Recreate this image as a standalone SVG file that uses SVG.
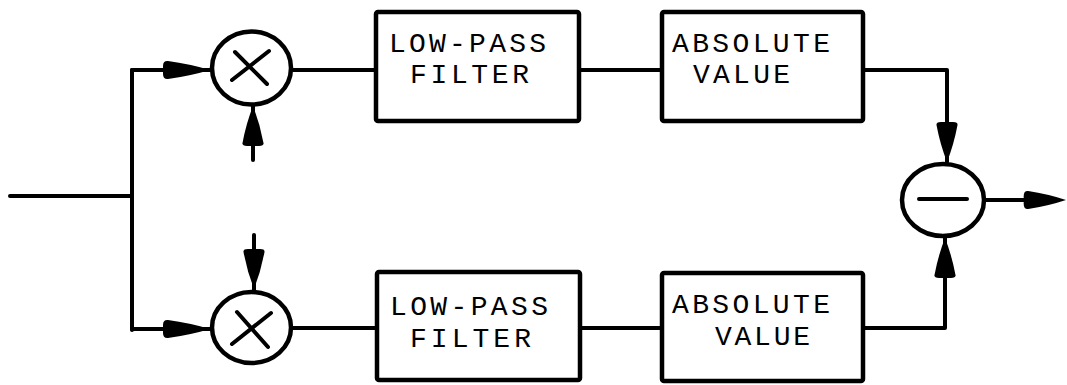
<svg xmlns="http://www.w3.org/2000/svg" width="1067" height="385" viewBox="0 0 1067 385">
  <style>
    .wire { fill: none; stroke: #000; stroke-width: 4; stroke-linecap: round; stroke-linejoin: round; }
    .box { fill: #fff; stroke: #000; stroke-width: 4.5; }
    .op { fill: #fff; stroke: #000; stroke-width: 4.5; }
    .sym { fill: none; stroke: #000; stroke-width: 4; stroke-linecap: round; }
    .lbl { font-family: "Liberation Mono", "DejaVu Sans Mono", monospace; font-size: 28px; fill: #000; }
    .head { fill: #000; }
  </style>
  <defs>
    <!-- arrowheads pointing along +x, tip at origin, slightly convex flanks -->
    <path id="ahH" d="M0,0 Q-20,-6 -42,-9 Q-47,-9.5 -47,-4 L-47,4 Q-47,9.5 -42,9 Q-20,6 0,0 Z"/>
    <path id="ahV" d="M0,0 Q-18,-7 -37,-10.5 Q-40,-11 -40,-6 L-40,6 Q-40,11 -37,10.5 Q-18,7 0,0 Z"/>
  </defs>

  <g id="connectors">
    <path class="wire" d="M10,196 H132"/>
    <path class="wire" d="M132,70 V330"/>
    <path class="wire" d="M132,70 H210"/>
    <path class="wire" d="M132,329 H210"/>
    <path class="wire" d="M253,105 V160"/>
    <path class="wire" d="M254,235 V290"/>
    <path class="wire" d="M293,70 H376"/>
    <path class="wire" d="M579,70 H662"/>
    <path class="wire" d="M293,328 H377"/>
    <path class="wire" d="M580,328 H662"/>
    <path class="wire" d="M863,70 H947 V162"/>
    <path class="wire" d="M863,328 H945 V238"/>
    <path class="wire" d="M984,200 H1030"/>
    <use href="#ahH" class="head" transform="translate(210,70)"/>
    <use href="#ahH" class="head" transform="translate(210,329)"/>
    <use href="#ahV" class="head" transform="translate(253,106) rotate(-90)"/>
    <use href="#ahV" class="head" transform="translate(254,289) rotate(90)"/>
    <use href="#ahV" class="head" transform="translate(947,162) rotate(90)"/>
    <use href="#ahV" class="head" transform="translate(945,238) rotate(-90)"/>
    <use href="#ahH" class="head" transform="translate(1066,200) scale(0.9,1)"/>
  </g>

  <g id="mult-top">
    <ellipse class="op" cx="251.5" cy="68" rx="39.5" ry="36.5"/>
    <path class="sym" d="M232,80 L269,51 M235,52 L267,84"/>
  </g>
  <g id="mult-bottom">
    <ellipse class="op" cx="251.5" cy="327.5" rx="39.5" ry="35.5"/>
    <path class="sym" d="M232,344 L271,313 M237,312 L268,347"/>
  </g>

  <g id="lpf-top">
    <rect class="box" x="376" y="12" width="203" height="109" rx="2"/>
    <text class="lbl" x="389" y="52" textLength="157" lengthAdjust="spacing">LOW-PASS</text>
    <text class="lbl" x="410" y="83" textLength="119" lengthAdjust="spacing">FILTER</text>
  </g>
  <g id="abs-top">
    <rect class="box" x="662" y="12" width="201" height="109" rx="2"/>
    <text class="lbl" x="672" y="52" textLength="158" lengthAdjust="spacing">ABSOLUTE</text>
    <text class="lbl" x="693" y="83" textLength="97" lengthAdjust="spacing">VALUE</text>
  </g>
  <g id="lpf-bottom">
    <rect class="box" x="377" y="272" width="203" height="108" rx="2"/>
    <text class="lbl" x="390" y="315" textLength="158" lengthAdjust="spacing">LOW-PASS</text>
    <text class="lbl" x="410" y="347" textLength="121" lengthAdjust="spacing">FILTER</text>
  </g>
  <g id="abs-bottom">
    <rect class="box" x="662" y="273" width="201" height="108" rx="2"/>
    <text class="lbl" x="672" y="313" textLength="158" lengthAdjust="spacing">ABSOLUTE</text>
    <text class="lbl" x="715" y="345" textLength="95" lengthAdjust="spacing">VALUE</text>
  </g>

  <g id="subtract">
    <ellipse class="op" cx="943" cy="200" rx="41" ry="36"/>
    <path class="sym" d="M919,199 H967"/>
  </g>
</svg>
